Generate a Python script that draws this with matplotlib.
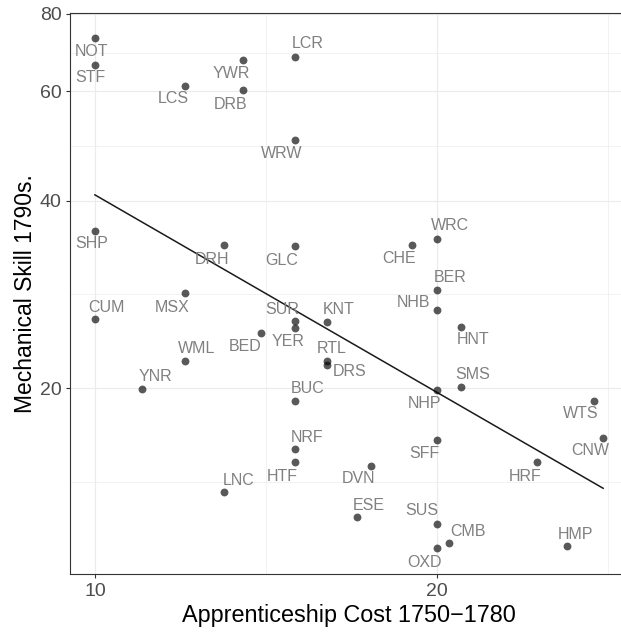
import numpy as np
import matplotlib
matplotlib.use("Agg")
import matplotlib.pyplot as plt
from matplotlib.ticker import FixedLocator, NullFormatter

plt.rcParams["font.family"] = ["Liberation Sans", "DejaVu Sans"]

codes = ["NOT", "STF", "LCS", "YWR", "DRB", "LCR", "WRW", "SHP", "DRH", "GLC",
         "MSX", "CUM", "SUR", "YER", "KNT", "BED", "WML", "RTL", "DRS", "YNR",
         "BUC", "CHE", "WRC", "BER", "NHB", "HNT", "SMS", "NHP", "WTS", "CNW",
         "SFF", "DVN", "HRF", "ESE", "SUS", "CMB", "OXD", "HMP", "NRF", "HTF",
         "LNC"]
apprentice_cost = [10.0, 10.0, 12.0, 13.5, 13.5, 15.0, 15.0, 10.0, 13.0, 15.0,
                   12.0, 10.0, 15.0, 15.0, 16.0, 14.0, 12.0, 16.0, 16.0, 11.0,
                   15.0, 19.0, 20.0, 20.0, 20.0, 21.0, 21.0, 20.0, 27.5, 28.0,
                   20.0, 17.5, 24.5, 17.0, 20.0, 20.5, 20.0, 26.0, 15.0, 15.0,
                   13.0]
mech_skill = [73.0, 66.2, 61.3, 67.3, 60.3, 68.2, 50.2, 35.8, 34.0, 33.8,
              28.4, 25.8, 25.6, 25.0, 25.5, 24.5, 22.1, 22.1, 21.8, 19.9,
              19.1, 34.0, 34.8, 28.8, 26.7, 25.1, 20.05, 19.85, 19.1, 16.65,
              16.5, 15.0, 15.2, 12.4, 12.1, 11.25, 11.06, 11.13, 15.95, 15.2,
              13.6]

x_breaks = [10, 20]
y_breaks = [20, 40, 60, 80]

# label nudges in screen pixels (right, down), as placed in the original
label_nudge = {
    "NOT": (-3, 13), "STF": (-5, 13), "LCS": (-12, 13), "YWR": (-12, 13),
    "DRB": (-12, 14), "LCR": (13, -13), "WRW": (-13, 14), "SHP": (-3, 13),
    "DRH": (-12, 15), "GLC": (-13, 14), "MSX": (-13, 14), "CUM": (12, -12),
    "SUR": (-13, -12), "YER": (-7, 14), "KNT": (12, -13), "BED": (-16, 13),
    "WML": (12, -13), "RTL": (5, -13), "DRS": (23, 7), "YNR": (13, -13),
    "BUC": (13, -12), "CHE": (-13, 14), "WRC": (13, -13), "BER": (13, -12),
    "NHB": (-24, -8), "HNT": (12, 13), "SMS": (12, -13), "NHP": (-13, 13),
    "WTS": (-13, 13), "CNW": (-13, 13), "SFF": (-13, 13), "DVN": (-13, 13),
    "HRF": (-12, 14), "ESE": (12, -12), "SUS": (-15, -13), "CMB": (19, -12),
    "OXD": (-13, 14), "HMP": (9, -12), "NRF": (12, -12), "HTF": (-13, 14),
    "LNC": (14, -12),
}


def log_limits(values, pad=0.05):
    lo, hi = np.log10(min(values)), np.log10(max(values))
    span = hi - lo
    return 10 ** (lo - pad * span), 10 ** (hi + pad * span)


def log_minor(breaks):
    b = [breaks[0] / 2] + list(breaks) + [breaks[-1] * 2]
    return [np.sqrt(a * c) for a, c in zip(b[:-1], b[1:])]


def main() -> None:
    x = np.array(apprentice_cost)
    y = np.array(mech_skill)

    fig = plt.figure(figsize=(6.21, 6.34), dpi=100)
    ax = fig.add_axes([69.5 / 621, 1 - 573.5 / 634, (628.5 - 69.5) / 621, (573.5 - 13) / 634])
    ax.set_xscale("log")
    ax.set_yscale("log")
    ax.set_xlim(*log_limits(x))
    ax.set_ylim(*log_limits(y))

    ax.xaxis.set_major_locator(FixedLocator(x_breaks))
    ax.yaxis.set_major_locator(FixedLocator(y_breaks))
    ax.set_xticklabels([str(v) for v in x_breaks])
    ax.set_yticklabels([str(v) for v in y_breaks])
    ax.xaxis.set_minor_locator(FixedLocator(log_minor([10, 20, 40])))
    ax.yaxis.set_minor_locator(FixedLocator(log_minor([10, 20, 40, 60, 80])))
    ax.xaxis.set_minor_formatter(NullFormatter())
    ax.yaxis.set_minor_formatter(NullFormatter())

    ax.grid(True, which="major", color="#ebebeb", linewidth=0.85)
    ax.grid(True, which="minor", color="#ebebeb", linewidth=0.45)
    ax.set_axisbelow(True)
    ax.tick_params(which="major", length=3.2, width=0.8, color="#333333",
                   labelcolor="#4d4d4d", labelsize=14)
    ax.tick_params(axis="x", which="major", pad=3.5)
    ax.tick_params(axis="y", which="major", pad=2.5)
    ax.tick_params(which="minor", length=0)
    for side in ax.spines.values():
        side.set_color("#333333")
        side.set_linewidth(0.8)

    # least-squares line fitted on the log-log scale
    slope, icpt = np.polyfit(np.log10(x), np.log10(y), 1)
    xs = np.linspace(x.min(), x.max(), 50)
    ax.plot(xs, 10 ** (icpt + slope * np.log10(xs)), color="#1a1a1a", linewidth=1.1, zorder=2)

    ax.scatter(x, y, s=32, color="black", alpha=0.65, linewidths=0, zorder=3)
    for code, xv, yv in zip(codes, x, y):
        dx, dy = label_nudge[code]
        ax.annotate(code, (xv, yv), xytext=(dx, -dy), textcoords="offset pixels",
                    ha="center", va="center", fontsize=11.5, color="#808080", zorder=4)

    ax.set_xlabel("Apprenticeship Cost 1750\u22121780", fontsize=16.8, color="black", labelpad=3)
    ax.set_ylabel("Mechanical Skill 1790s.", fontsize=16.5, color="black", labelpad=2)

    fig.savefig("out.png", dpi=100)
    plt.close(fig)


if __name__ == "__main__":
    main()
